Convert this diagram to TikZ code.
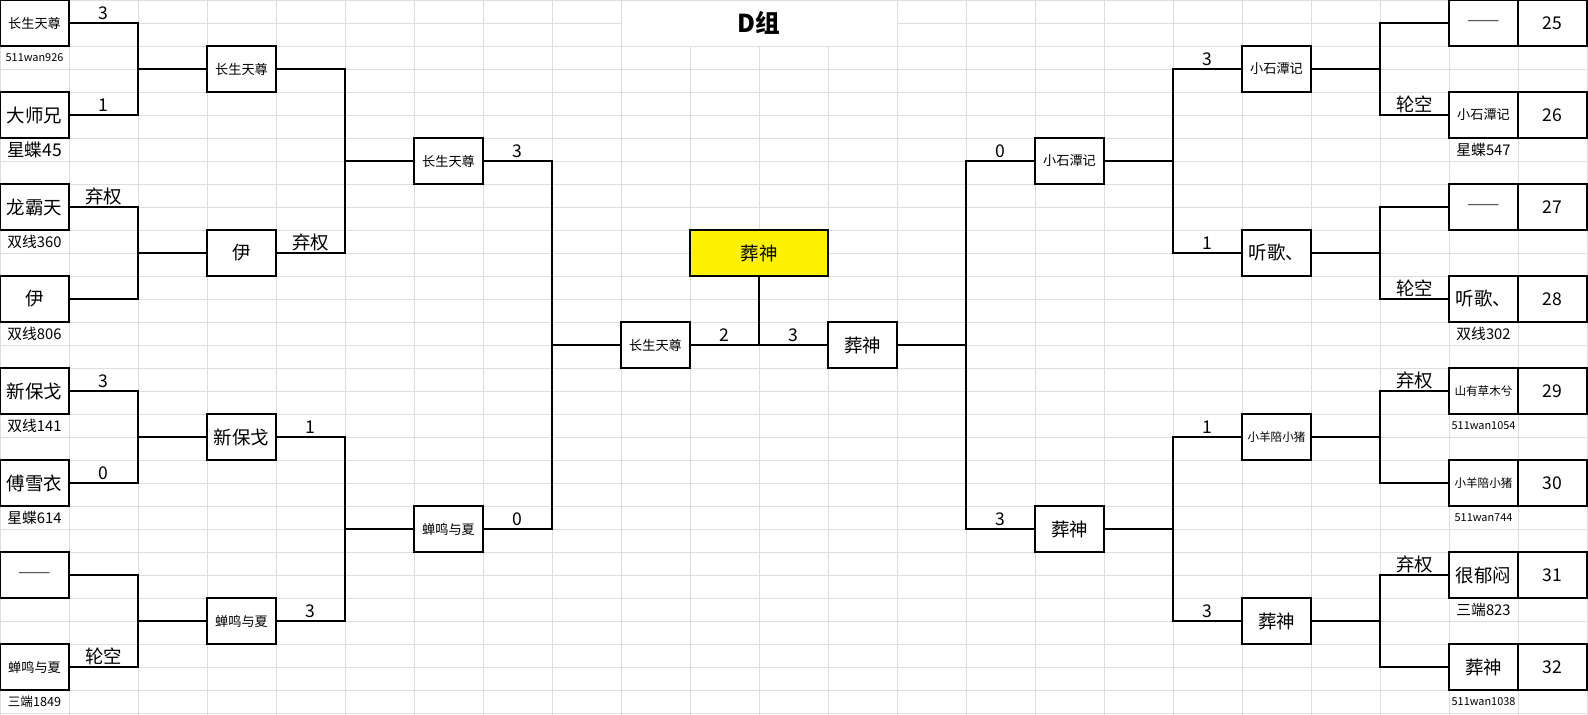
\documentclass[tikz,border=0pt]{standalone}
\usepackage{fontspec}
\setmainfont{Noto Sans CJK SC}
\definecolor{gridc}{RGB}{222,222,222}
\begin{document}
\begin{tikzpicture}[x=1.38cm,y=-0.46cm,
  gridline/.style={draw=gridc,line width=0.55pt},
  conn/.style={draw=black,line width=0.8pt},
  cell/.style={draw=black,fill=white,line width=0.8pt,minimum width=1.38cm,minimum height=0.92cm,inner sep=0pt,anchor=center},
  wcell/.style={cell,minimum width=2.76cm,fill=yellow},
  fa/.style={font=\fontsize{10.5}{12}\selectfont},
  fb/.style={font=\fontsize{7.5}{9}\selectfont},
  fc/.style={font=\fontsize{6.6}{8}\selectfont},
  fn/.style={font=\fontsize{10}{12}\selectfont},
  dashtxt/.style={text=black!65,font=\fontsize{11}{12}\selectfont},
  score/.style={anchor=base,inner sep=0pt,font=\fontsize{10}{12}\selectfont},
  cscore/.style={anchor=base,inner sep=0pt,font=\fontsize{10.5}{12}\selectfont},
  lbl/.style={anchor=center,inner sep=0pt},
  la/.style={lbl,font=\fontsize{10}{12}\selectfont},
  lb/.style={lbl,font=\fontsize{8.4}{10}\selectfont},
  lc/.style={lbl,font=\fontsize{7.2}{9}\selectfont},
  ld/.style={lbl,font=\fontsize{6.2}{8}\selectfont}
]
\useasboundingbox (0,0) rectangle (31.76cm,-14.28cm);
% grid
\foreach \i in {0,...,9,13,14,...,23} \draw[gridline] (\i,0) -- (\i,31.1);
\foreach \i in {10,11,12} \draw[gridline] (\i,2) -- (\i,31.1);
\foreach \j in {0,2,3,...,31} \draw[gridline] (0,\j) -- (23.1,\j);
\draw[gridline] (0,1) -- (9,1);
\draw[gridline] (13,1) -- (23.1,1);

% title
\node[inner sep=0pt,font=\fontsize{14}{16}\selectfont\bfseries] (title) at (11,1) {D组};

% left round 1
\node[cell,fb] (a1) at (0.5,1) {长生天尊};
\node[cell,fa] (a2) at (0.5,5) {大师兄};
\node[cell,fa] (a3) at (0.5,9) {龙霸天};
\node[cell,fa] (a4) at (0.5,13) {伊};
\node[cell,fa] (a5) at (0.5,17) {新保戈};
\node[cell,fa] (a6) at (0.5,21) {傅雪衣};
\node[cell,dashtxt] (a7) at (0.5,25) {——};
\node[cell,fb] (a8) at (0.5,29) {蝉鸣与夏};
\node[ld] (la1) at (0.5,2.5) {511wan926};
\node[la] (la2) at (0.5,6.5) {星蝶45};
\node[lb] (la3) at (0.5,10.5) {双线360};
\node[lb] (la4) at (0.5,14.5) {双线806};
\node[lb] (la5) at (0.5,18.5) {双线141};
\node[lb] (la6) at (0.5,22.5) {星蝶614};
\node[lc] (la8) at (0.5,30.5) {三端1849};

% left round 2
\node[cell,fb] (b1) at (3.5,3) {长生天尊};
\node[cell,fa] (b2) at (3.5,11) {伊};
\node[cell,fa] (b3) at (3.5,19) {新保戈};
\node[cell,fb] (b4) at (3.5,27) {蝉鸣与夏};
% left round 3
\node[cell,fb] (c1) at (6.5,7) {长生天尊};
\node[cell,fb] (c2) at (6.5,23) {蝉鸣与夏};
% final
\node[cell,fb] (d1) at (9.5,15) {长生天尊};
\node[cell,fa] (d2) at (12.5,15) {葬神};
\node[wcell,fa] (champ) at (11,11) {葬神};

% right round 3
\node[cell,fb] (e1) at (15.5,7) {小石潭记};
\node[cell,fa] (e2) at (15.5,23) {葬神};
% right round 2
\node[cell,fb] (f1) at (18.5,3) {小石潭记};
\node[cell,fa] (f2) at (18.5,11) {听歌、};
\node[cell,fc] (f3) at (18.5,19) {小羊陪小猪};
\node[cell,fa] (f4) at (18.5,27) {葬神};
% right round 1
\node[cell,dashtxt] (g1) at (21.5,1) {——};
\node[cell,fb] (g2) at (21.5,5) {小石潭记};
\node[cell,dashtxt] (g3) at (21.5,9) {——};
\node[cell,fa] (g4) at (21.5,13) {听歌、};
\node[cell,fc] (g5) at (21.5,17) {山有草木兮};
\node[cell,fc] (g6) at (21.5,21) {小羊陪小猪};
\node[cell,fa] (g7) at (21.5,25) {很郁闷};
\node[cell,fa] (g8) at (21.5,29) {葬神};
\node[cell,fn] (n1) at (22.5,1) {25};
\node[cell,fn] (n2) at (22.5,5) {26};
\node[cell,fn] (n3) at (22.5,9) {27};
\node[cell,fn] (n4) at (22.5,13) {28};
\node[cell,fn] (n5) at (22.5,17) {29};
\node[cell,fn] (n6) at (22.5,21) {30};
\node[cell,fn] (n7) at (22.5,25) {31};
\node[cell,fn] (n8) at (22.5,29) {32};
\node[lb] (lg2) at (21.5,6.5) {星蝶547};
\node[lb] (lg4) at (21.5,14.5) {双线302};
\node[ld] (lg5) at (21.5,18.5) {511wan1054};
\node[ld] (lg6) at (21.5,22.5) {511wan744};
\node[lb] (lg7) at (21.5,26.5) {三端823};
\node[ld] (lg8) at (21.5,30.5) {511wan1038};

% junctions
\coordinate (ja1) at (2,3);
\coordinate (ja2) at (2,11);
\coordinate (ja3) at (2,19);
\coordinate (ja4) at (2,27);
\coordinate (jb1) at (5,7);
\coordinate (jb2) at (5,23);
\coordinate (jc) at (8,15);
\coordinate (jf) at (11,15);
\coordinate (jd) at (14,15);
\coordinate (je1) at (17,7);
\coordinate (je2) at (17,23);
\coordinate (jg1) at (20,3);
\coordinate (jg2) at (20,11);
\coordinate (jg3) at (20,19);
\coordinate (jg4) at (20,27);

% connectors left
\draw[conn] (a1.east) -| (ja1) |- (a2.east) (ja1) -- (b1.west);
\draw[conn] (a3.east) -| (ja2) |- (a4.east) (ja2) -- (b2.west);
\draw[conn] (a5.east) -| (ja3) |- (a6.east) (ja3) -- (b3.west);
\draw[conn] (a7.east) -| (ja4) |- (a8.east) (ja4) -- (b4.west);
\draw[conn] (b1.east) -| (jb1) |- (b2.east) (jb1) -- (c1.west);
\draw[conn] (b3.east) -| (jb2) |- (b4.east) (jb2) -- (c2.west);
\draw[conn] (c1.east) -| (jc) |- (c2.east) (jc) -- (d1.west);
\draw[conn] (d1.east) -- (d2.west);
\draw[conn] (champ.south) -- (jf);
% connectors right
\draw[conn] (e1.west) -| (jd) |- (e2.west) (jd) -- (d2.east);
\draw[conn] (f1.west) -| (je1) |- (f2.west) (je1) -- (e1.east);
\draw[conn] (f3.west) -| (je2) |- (f4.west) (je2) -- (e2.east);
\draw[conn] (g1.west) -| (jg1) |- (g2.west) (jg1) -- (f1.east);
\draw[conn] (g3.west) -| (jg2) |- (g4.west) (jg2) -- (f2.east);
\draw[conn] (g5.west) -| (jg3) |- (g6.west) (jg3) -- (f3.east);
\draw[conn] (g7.west) -| (jg4) |- (g8.west) (jg4) -- (f4.east);

% scores left
\node[score] (s1) at (1.5,0.85) {3};
\node[score] (s2) at (1.5,4.85) {1};
\node[cscore] (s3) at (1.5,8.85) {弃权};
\node[score] (s4) at (1.5,16.85) {3};
\node[score] (s5) at (1.5,20.85) {0};
\node[cscore] (s6) at (1.5,28.85) {轮空};
\node[cscore] (s7) at (4.5,10.85) {弃权};
\node[score] (s8) at (4.5,18.85) {1};
\node[score] (s9) at (4.5,26.85) {3};
\node[score] (s10) at (7.5,6.85) {3};
\node[score] (s11) at (7.5,22.85) {0};
\node[score] (s12) at (10.5,14.85) {2};
\node[score] (s13) at (11.5,14.85) {3};
% scores right
\node[score] (t1) at (14.5,6.85) {0};
\node[score] (t2) at (14.5,22.85) {3};
\node[score] (t3) at (17.5,2.85) {3};
\node[score] (t4) at (17.5,10.85) {1};
\node[score] (t5) at (17.5,18.85) {1};
\node[score] (t6) at (17.5,26.85) {3};
\node[cscore] (t7) at (20.5,4.85) {轮空};
\node[cscore] (t8) at (20.5,12.85) {轮空};
\node[cscore] (t9) at (20.5,16.85) {弃权};
\node[cscore] (t10) at (20.5,24.85) {弃权};
\end{tikzpicture}
\end{document}
